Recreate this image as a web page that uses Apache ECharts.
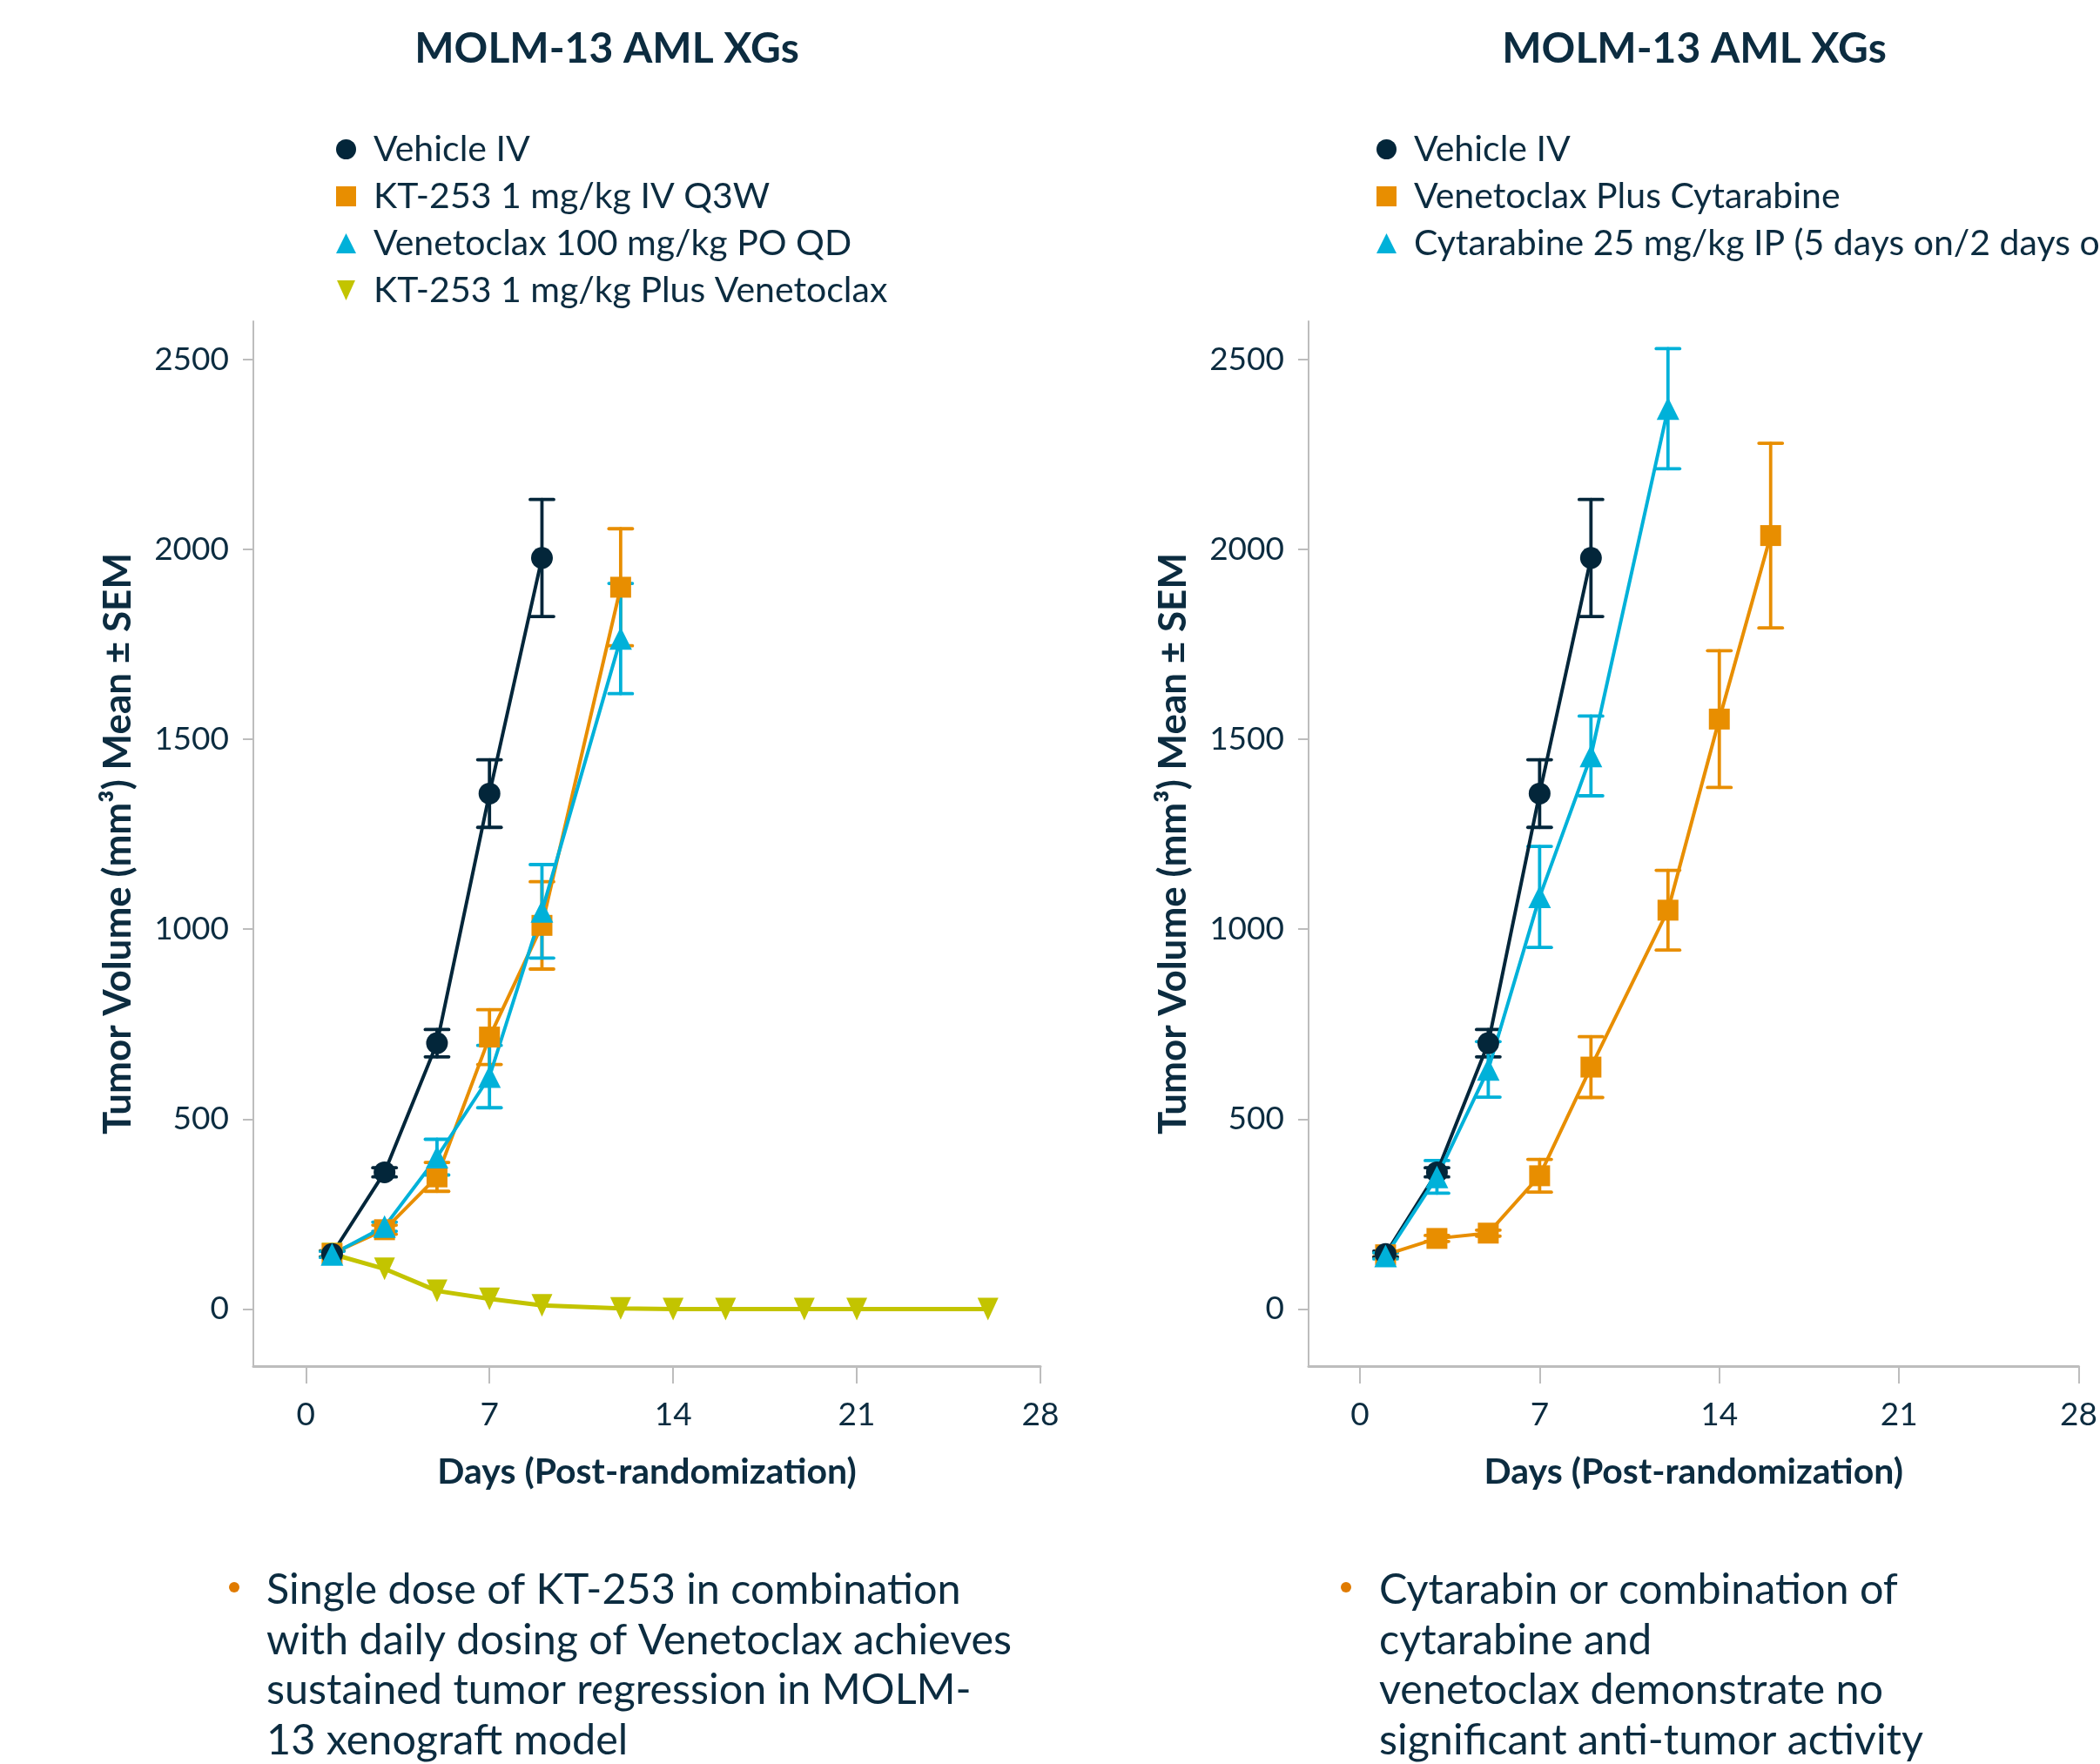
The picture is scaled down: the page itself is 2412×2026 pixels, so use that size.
<!DOCTYPE html>
<html><head><meta charset="utf-8">
<script src="https://cdn.jsdelivr.net/npm/echarts@6/dist/echarts.min.js"></script>
<style>html,body{margin:0;padding:0;background:#fff}#c{width:2412px;height:2026px}</style>
</head><body><div id="c"></div>
<script>
// ---- data ----
const chartTitle = 'MOLM-13 AML XGs';
const xTicks = [0, 7, 14, 21, 28];
const yTicks = [0, 500, 1000, 1500, 2000, 2500];

// Left panel
const daysVehicle = [1, 3, 5, 7, 9];
const vehicleMean = [145, 360, 700, 1357, 1977];
const vehicleSem  = [8, 12, 36, 89, 154];

const daysKT = [1, 3, 5, 7, 9, 12];
const ktMean = [146, 209, 348, 716, 1010, 1900];
const ktSem  = [8, 12, 38, 72, 115, 154];

const daysVen = [1, 3, 5, 7, 9, 12];
const venMean = [144, 217, 400, 612, 1047, 1765];
const venSem  = [8, 12, 47, 82, 123, 145];

const daysCombo = [1, 3, 5, 7, 9, 12, 14, 16, 19, 21, 26];
const comboMean = [145, 106, 48, 27, 10, 2, 0, 0, 0, 0, 0];

// Right panel
const daysVenCyt = [1, 3, 5, 7, 9, 12, 14, 16];
const venCytMean = [143, 186, 200, 351, 637, 1050, 1553, 2036];
const venCytSem  = [5, 8, 8, 43, 80, 105, 180, 243];

const daysCyt = [1, 3, 5, 7, 9, 12];
const cytMean = [140, 348, 631, 1085, 1456, 2370];
const cytSem  = [8, 43, 73, 133, 105, 158];

const leftNames = ['Vehicle IV', 'KT-253 1 mg/kg IV Q3W', 'Venetoclax 100 mg/kg PO QD', 'KT-253 1 mg/kg Plus Venetoclax'];
const rightNames = ['Vehicle IV', 'Venetoclax Plus Cytarabine', 'Cytarabine 25 mg/kg IP (5 days on/2 days off)'];

const leftNote = 'Single dose of KT-253 in combination\nwith daily dosing of Venetoclax achieves\nsustained tumor regression in MOLM-\n13 xenograft model';
const rightNote = 'Cytarabin or combination of\ncytarabine and\nvenetoclax demonstrate no\nsignificant anti-tumor activity';

const xName = 'Days (Post-randomization)';
const yName = 'Tumor Volume (mm³) Mean ± SEM';

// ---- style ----
const NAVY = '#03263a', ORANGE = '#e88e00', CYAN = '#00b1d9', YELLOW = '#c3c400', TEXT = '#0c2c40', AXIS = '#bdbdbd';
const FONT = 'Lato';
const DOWN_TRI = 'path://M0,0 L20,0 L10,22 Z';

function pairs(xs, ys) { return xs.map((x, i) => [x, ys[i]]); }
function errData(xs, m, s) { return xs.map((x, i) => [x, m[i] - s[i], m[i] + s[i]]); }

function lineSeries(name, xs, ys, color, symbol, size, idx, lw) {
  return {
    type: 'line', name, xAxisIndex: idx, yAxisIndex: idx,
    data: pairs(xs, ys), symbol, symbolSize: size,
    lineStyle: { color, width: lw || 4 }, itemStyle: { color },
    showAllSymbol: true, animation: false
  };
}
function errSeries(xs, m, s, color, idx) {
  return {
    type: 'custom', xAxisIndex: idx, yAxisIndex: idx,
    data: errData(xs, m, s), encode: { x: 0, y: [1, 2] }, animation: false,
    renderItem(params, api) {
      const x = api.value(0);
      const lo = api.coord([x, api.value(1)]);
      const hi = api.coord([x, api.value(2)]);
      const c = 13.5;
      const st = { stroke: color, lineWidth: 3.8, lineCap: 'round' };
      return { type: 'group', children: [
        { type: 'line', shape: { x1: lo[0], y1: lo[1], x2: hi[0], y2: hi[1] }, style: st },
        { type: 'line', shape: { x1: hi[0] - c, y1: hi[1], x2: hi[0] + c, y2: hi[1] }, style: st },
        { type: 'line', shape: { x1: lo[0] - c, y1: lo[1], x2: lo[0] + c, y2: lo[1] }, style: st }
      ]};
    }
  };
}

function xAxis(idx) {
  return {
    type: 'value', gridIndex: idx, min: -2, max: 28,
    name: xName, nameLocation: 'middle', nameGap: 101,
    nameTextStyle: { fontFamily: FONT, fontWeight: 'bold', fontSize: 41, color: TEXT },
    axisLine: { onZero: false, lineStyle: { color: AXIS, width: 3 } },
    axisTick: { customValues: xTicks, length: 20, lineStyle: { color: AXIS, width: 2 } },
    axisLabel: { customValues: xTicks, margin: 38, fontFamily: FONT, fontSize: 37, color: TEXT, formatter: v => String(v) },
    splitLine: { show: false }
  };
}
function yAxis(idx) {
  return {
    type: 'value', gridIndex: idx, min: -150, max: 2600,
    name: yName, nameLocation: 'middle', nameGap: 133,
    nameTextStyle: { fontFamily: FONT, fontWeight: 'bold', fontSize: 44, color: TEXT },
    axisLine: { show: true, onZero: false, lineStyle: { color: AXIS, width: 2 } },
    axisTick: { show: true, customValues: yTicks, length: 12, lineStyle: { color: AXIS, width: 2 } },
    axisLabel: { customValues: yTicks, margin: 28, fontFamily: FONT, fontSize: 37, color: TEXT, formatter: v => String(v) },
    splitLine: { show: false }
  };
}
function legend(names, icons, left) {
  return {
    orient: 'vertical', left, top: 146, itemWidth: 23, itemHeight: 23, itemGap: 13,
    selectedMode: false,
    textStyle: { fontFamily: FONT, fontSize: 41, lineHeight: 41, color: TEXT, padding: [0, 0, 0, 15] },
    data: names.map((n, i) => ({ name: n, icon: icons[i] }))
  };
}

const option = {
  animation: false,
  backgroundColor: '#fff',
  grid: [
    { left: 291, top: 369, width: 904, height: 1200 },
    { left: 1503, top: 369, width: 904, height: 1200 }
  ],
  xAxis: [xAxis(0), xAxis(1)],
  yAxis: [yAxis(0), yAxis(1)],
  legend: [
    legend(leftNames, ['circle', 'rect', 'triangle', DOWN_TRI], 381),
    legend(rightNames, ['circle', 'rect', 'triangle'], 1576)
  ],
  series: [
    lineSeries(leftNames[3], daysCombo, comboMean, YELLOW, DOWN_TRI, [24, 26], 0, 5),
    lineSeries(leftNames[1], daysKT, ktMean, ORANGE, 'rect', 24, 0),
    errSeries(daysKT, ktMean, ktSem, ORANGE, 0),
    lineSeries(leftNames[0], daysVehicle, vehicleMean, NAVY, 'circle', 25, 0),
    errSeries(daysVehicle, vehicleMean, vehicleSem, NAVY, 0),
    lineSeries(leftNames[2], daysVen, venMean, CYAN, 'triangle', 26, 0),
    errSeries(daysVen, venMean, venSem, CYAN, 0),

    lineSeries(rightNames[1], daysVenCyt, venCytMean, ORANGE, 'rect', 24, 1),
    errSeries(daysVenCyt, venCytMean, venCytSem, ORANGE, 1),
    lineSeries(rightNames[0], daysVehicle, vehicleMean, NAVY, 'circle', 25, 1),
    errSeries(daysVehicle, vehicleMean, vehicleSem, NAVY, 1),
    lineSeries(rightNames[2], daysCyt, cytMean, CYAN, 'triangle', 26, 1),
    errSeries(daysCyt, cytMean, cytSem, CYAN, 1)
  ],
  graphic: [
    { type: 'text', x: 697, y: 57, style: { text: chartTitle, font: 'bold 48px Lato', fill: TEXT, align: 'center', verticalAlign: 'middle' } },
    { type: 'text', x: 1946, y: 57, style: { text: chartTitle, font: 'bold 48px Lato', fill: TEXT, align: 'center', verticalAlign: 'middle' } },
    { type: 'circle', shape: { cx: 269, cy: 1823, r: 6 }, style: { fill: '#e07b00' } },
    { type: 'circle', shape: { cx: 1546, cy: 1823, r: 6 }, style: { fill: '#e07b00' } },
    { type: 'text', x: 306, y: 1798, style: { text: leftNote, font: '48.5px Lato', lineHeight: 57.4, fill: TEXT, align: 'left', verticalAlign: 'top' } },
    { type: 'text', x: 1584, y: 1798, style: { text: rightNote, font: '48.5px Lato', lineHeight: 57.4, fill: TEXT, align: 'left', verticalAlign: 'top' } }
  ]
};
const chart = echarts.init(document.getElementById('c'), null, { renderer: 'canvas' });
chart.setOption(option);
</script></body></html>
